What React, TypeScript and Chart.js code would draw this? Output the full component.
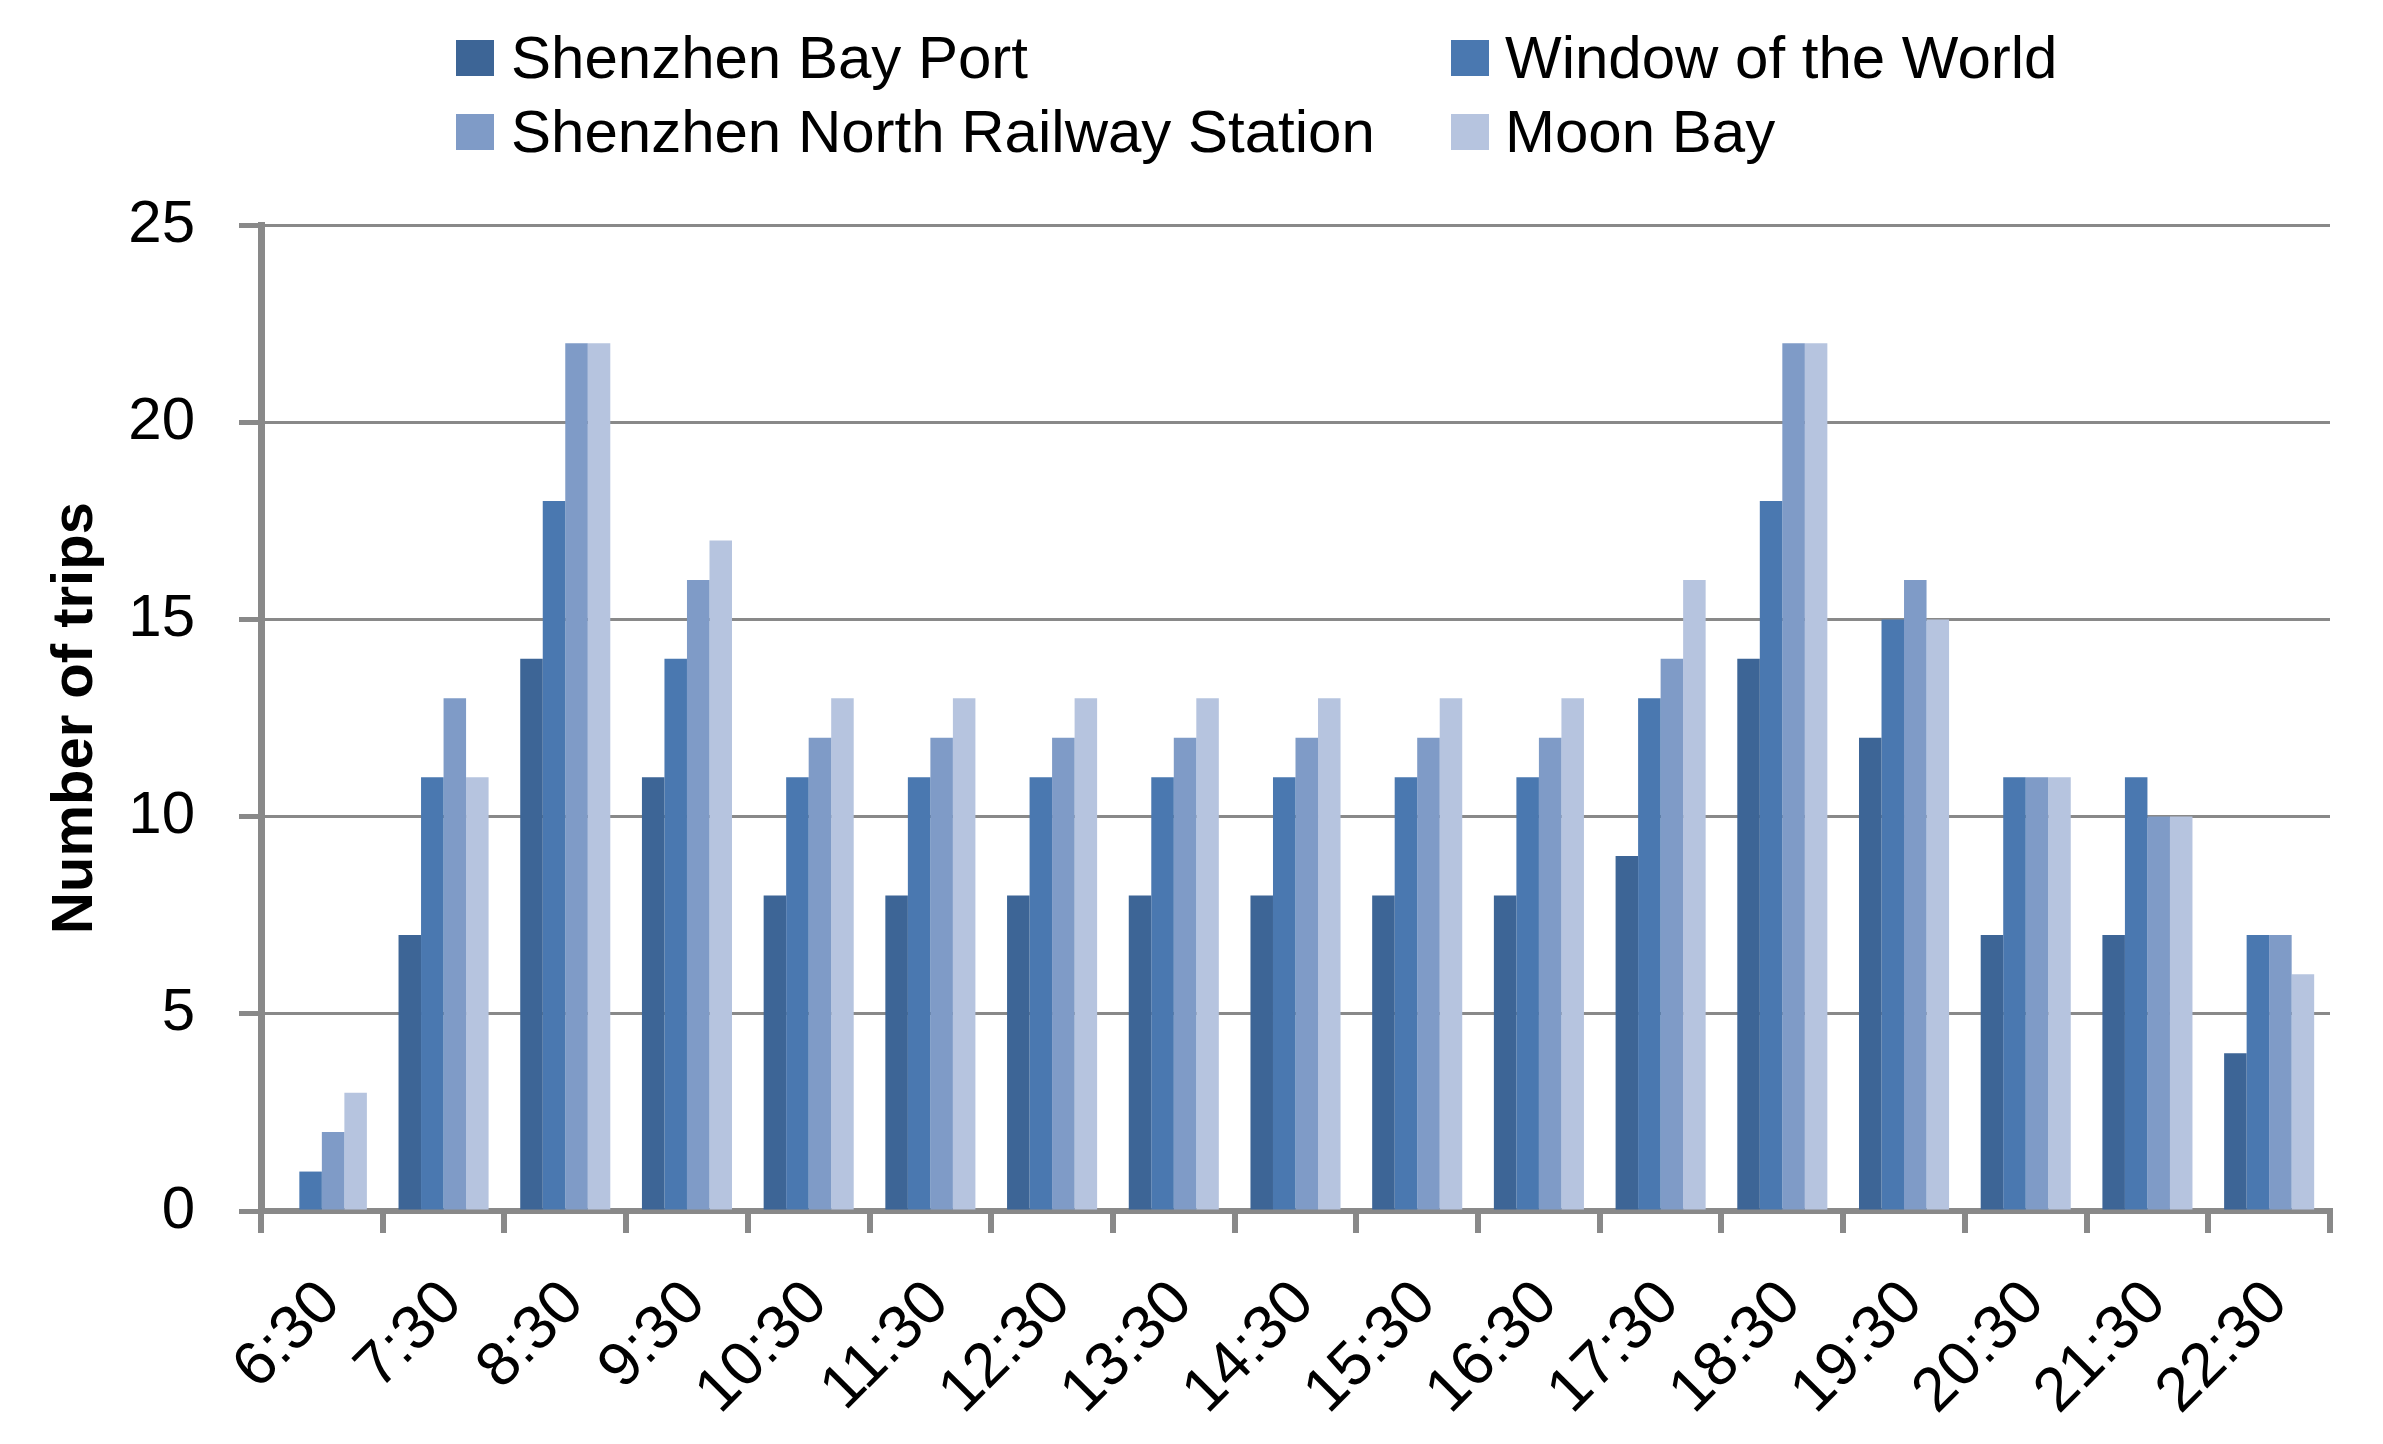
import React, { useEffect, useRef } from 'react';
import { Chart, registerables } from 'chart.js';

Chart.register(...registerables);

const categories = ['6:30', '7:30', '8:30', '9:30', '10:30', '11:30', '12:30', '13:30', '14:30', '15:30', '16:30', '17:30', '18:30', '19:30', '20:30', '21:30', '22:30'];
const shenzhenBayPort = [0, 7, 14, 11, 8, 8, 8, 8, 8, 8, 8, 9, 14, 12, 7, 7, 4];
const windowOfTheWorld = [1, 11, 18, 14, 11, 11, 11, 11, 11, 11, 11, 13, 18, 15, 11, 11, 7];
const shenzhenNorthRailwayStation = [2, 13, 22, 16, 12, 12, 12, 12, 12, 12, 12, 14, 22, 16, 11, 10, 7];
const moonBay = [3, 11, 22, 17, 13, 13, 13, 13, 13, 13, 13, 16, 22, 15, 11, 10, 6];
const yTicks = [0, 5, 10, 15, 20, 25];
const seriesNames = ['Shenzhen Bay Port', 'Window of the World', 'Shenzhen North Railway Station', 'Moon Bay'];
const seriesColors = ['#3D6596', '#4A78B0', '#7F9BC7', '#B6C4DF'];
const yTitle = 'Number of trips';

const AXIS_COLOR = '#898989';
const W = 2383;
const H = 1444;

export default function App() {
  const canvasRef = useRef<HTMLCanvasElement | null>(null);

  useEffect(() => {
    const canvas = canvasRef.current;
    if (!canvas) return;
    const seriesData = [shenzhenBayPort, windowOfTheWorld, shenzhenNorthRailwayStation, moonBay];
    const chart = new Chart(canvas, {
      type: 'bar',
      data: {
        labels: categories,
        datasets: seriesNames.map((name, i) => ({
          label: name,
          data: seriesData[i],
          backgroundColor: seriesColors[i],
          borderWidth: 0,
          categoryPercentage: 0.74,
          barPercentage: 1,
        })),
      },
      options: {
        responsive: false,
        animation: false,
        devicePixelRatio: 1,
        layout: { padding: { left: 0, right: 53, top: 225, bottom: 0 } },
        plugins: {
          legend: { display: false },
          tooltip: { enabled: false },
        },
        scales: {
          x: {
            offset: true,
            grid: {
              offset: true,
              drawOnChartArea: false,
              drawTicks: true,
              tickLength: 22,
              color: AXIS_COLOR,
              lineWidth: 6,
              tickWidth: 6,
            },
            border: { display: true, color: AXIS_COLOR, width: 6 },
            ticks: {
              autoSkip: false,
              minRotation: 45,
              maxRotation: 45,
              color: '#000',
              padding: 34,
              labelOffset: 9,
              font: { family: 'Liberation Sans', size: 62 },
            },
            afterFit: (scale: any) => {
              scale.height = 233;
            },
          },
          y: {
            min: 0,
            max: 25,
            afterBuildTicks: (scale: any) => {
              scale.ticks = yTicks.map((v) => ({ value: v }));
            },
            grid: {
              color: AXIS_COLOR,
              lineWidth: 3,
              tickWidth: 5,
              tickLength: 22,
              drawTicks: true,
            },
            border: { display: true, color: AXIS_COLOR, width: 7 },
            ticks: {
              color: '#000',
              padding: 44,
              font: { family: 'Liberation Sans', size: 60 },
            },
            title: {
              display: true,
              text: yTitle,
              color: '#000',
              font: { family: 'Liberation Sans', size: 58, weight: 'bold' },
              padding: { top: 41, bottom: 0 },
            },
            afterFit: (scale: any) => {
              scale.width = 261;
            },
          },
        },
      },
    });
    return () => {
      chart.destroy();
    };
  }, []);

  const legendPos = [
    { boxX: 456, textX: 511, y: 58 },
    { boxX: 1451, textX: 1505, y: 58 },
    { boxX: 456, textX: 511, y: 132 },
    { boxX: 1451, textX: 1505, y: 132 },
  ];

  return (
    <div style={{ position: 'absolute', left: 0, top: 0, width: W, height: H, background: '#fff', overflow: 'hidden' }}>
      <canvas ref={canvasRef} width={W} height={H} style={{ position: 'absolute', left: 0, top: 0, width: W, height: H }} />
      {seriesNames.map((name, i) => (
        <React.Fragment key={name}>
          <div
            style={{
              position: 'absolute',
              left: legendPos[i].boxX,
              top: legendPos[i].y - 18,
              width: 38,
              height: 36,
              background: seriesColors[i],
            }}
          />
          <div
            style={{
              position: 'absolute',
              left: legendPos[i].textX,
              top: legendPos[i].y - 40,
              height: 80,
              lineHeight: '80px',
              fontFamily: 'Liberation Sans',
              fontSize: 60,
              color: '#000',
              whiteSpace: 'nowrap',
            }}
          >
            {name}
          </div>
        </React.Fragment>
      ))}
    </div>
  );
}
